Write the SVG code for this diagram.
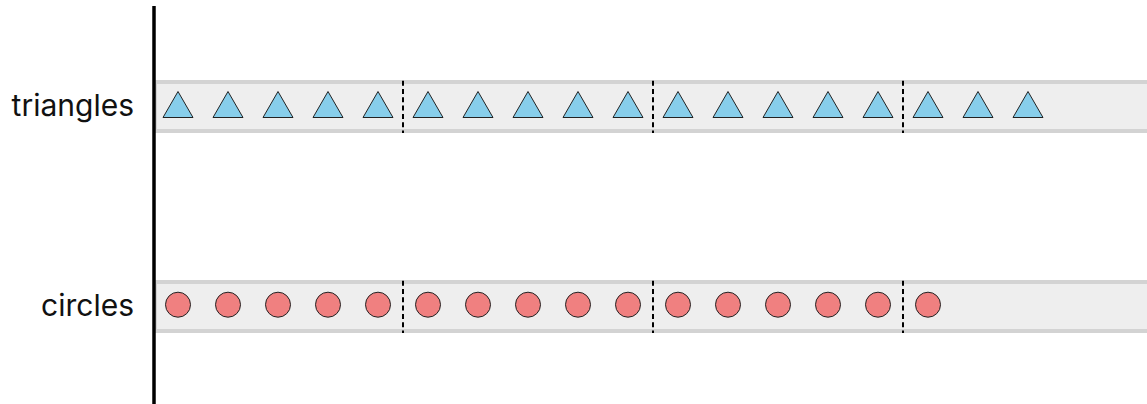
<svg xmlns="http://www.w3.org/2000/svg" width="1147" height="404" viewBox="0 0 1147 404">
<style>
.band{fill:#eeeeee;stroke:#d3d3d3;stroke-width:4}
.tri{fill:#87ceeb;stroke:#222;stroke-width:1}
.cir{fill:#f08080;stroke:#222;stroke-width:1}
.sep{stroke:#000;stroke-width:2;stroke-dasharray:5 3.3}
.lbl{font-family:Inter,"Liberation Sans",sans-serif;font-size:30px;fill:#111;text-anchor:end}
</style>
<defs>
<polygon id="t" class="tri" points="0,-13 15,13 -15,13"/>
<circle id="c" class="cir" r="12.5"/>
</defs>
<g id="lane-triangles">
<rect class="band" x="155" y="82" width="1010" height="49"/>
<text class="lbl" x="134" y="116">triangles</text>
<g id="triangles" transform="translate(0,104.5)">
<use href="#t" x="178"/><use href="#t" x="228"/><use href="#t" x="278"/><use href="#t" x="328"/><use href="#t" x="378"/>
<use href="#t" x="428"/><use href="#t" x="478"/><use href="#t" x="528"/><use href="#t" x="578"/><use href="#t" x="628"/>
<use href="#t" x="678"/><use href="#t" x="728"/><use href="#t" x="778"/><use href="#t" x="828"/><use href="#t" x="878"/>
<use href="#t" x="928"/><use href="#t" x="978"/><use href="#t" x="1028"/>
</g>
<line class="sep" x1="403" y1="80.7" x2="403" y2="133"/>
<line class="sep" x1="653" y1="80.7" x2="653" y2="133"/>
<line class="sep" x1="903" y1="80.7" x2="903" y2="133"/>
</g>
<g id="lane-circles">
<rect class="band" x="155" y="282" width="1010" height="49"/>
<text class="lbl" x="134" y="316">circles</text>
<g id="circles" transform="translate(0,304.7)">
<use href="#c" x="178"/><use href="#c" x="228"/><use href="#c" x="278"/><use href="#c" x="328"/><use href="#c" x="378"/>
<use href="#c" x="428"/><use href="#c" x="478"/><use href="#c" x="528"/><use href="#c" x="578"/><use href="#c" x="628"/>
<use href="#c" x="678"/><use href="#c" x="728"/><use href="#c" x="778"/><use href="#c" x="828"/><use href="#c" x="878"/>
<use href="#c" x="928"/>
</g>
<line class="sep" x1="403" y1="280.7" x2="403" y2="333"/>
<line class="sep" x1="653" y1="280.7" x2="653" y2="333"/>
<line class="sep" x1="903" y1="280.7" x2="903" y2="333"/>
</g>
<g id="connectors">
<line id="axis" x1="154" y1="6" x2="154" y2="404" stroke="#000" stroke-width="3.5"/>
</g>
</svg>
